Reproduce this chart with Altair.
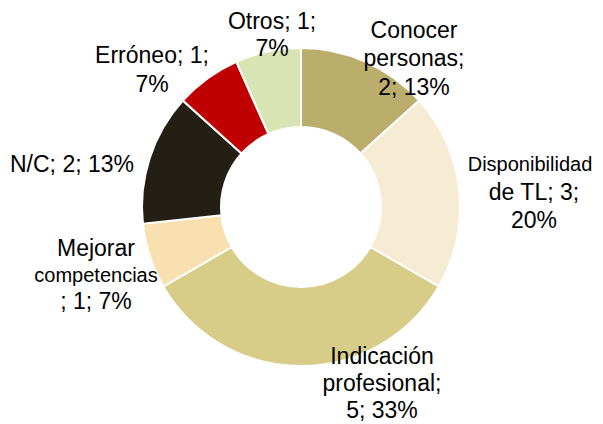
import altair as alt
import pandas as pd

categories = ["Conocer personas", "Disponibilidad de TL", "Indicación profesional",
              "Mejorar competencias", "N/C", "Erróneo", "Otros"]
counts = [2, 3, 5, 1, 2, 1, 1]
percents = ["13%", "20%", "33%", "7%", "13%", "7%", "7%"]
colors = ["#BBAD6C", "#F6EBD3", "#D7CD88", "#F9E0B0", "#231F14", "#C00000", "#D8E4B4"]

df = pd.DataFrame({"cat": categories, "n": counts, "order": list(range(len(categories)))})

base = alt.Chart(df)
arcs = base.mark_arc(radius=159, innerRadius=80, stroke="white", strokeWidth=2).encode(
    theta=alt.Theta("n:Q", stack=True),
    order=alt.Order("order:Q"),
    color=alt.Color("cat:N", scale=alt.Scale(domain=categories, range=colors), legend=None),
    x=alt.value(293), y=alt.value(199),
)

# label lines: (text, page x, page y, size)
FONT = "Liberation Sans"
BIG, SMALL = 23, 20
label_lines = [
    ("Otros; 1;", 272, 22, BIG), (percents[6], 272, 49, BIG),
    ("Conocer", 414, 31, BIG), ("personas;", 414, 59, BIG), (f"{counts[0]}; {percents[0]}", 414, 88, BIG),
    ("Disponibilidad", 530, 165, SMALL), (f"de TL; {counts[1]};", 534, 193, BIG), (percents[1], 534, 221, BIG),
    ("Indicación", 382, 357, BIG), ("profesional;", 382, 384, BIG), (f"{counts[2]}; {percents[2]}", 382, 411, BIG),
    ("Mejorar", 96, 249, BIG), ("competencias", 96, 276, SMALL), (f"; {counts[3]}; {percents[3]}", 96, 302, BIG),
    (f"N/C; {counts[4]}; {percents[4]}", 72, 165, BIG),
    (f"Erróneo; {counts[5]};", 152, 56, BIG), (percents[5], 152, 85, BIG),
]

layers = [arcs]
for t, x, y, s in label_lines:
    layers.append(
        alt.Chart(pd.DataFrame({"t": [t]})).mark_text(
            font=FONT, fontSize=s, color="#000000", align="center", baseline="middle"
        ).encode(text="t:N", x=alt.value(x - 8), y=alt.value(y - 8))
    )

chart = alt.layer(*layers).properties(
    width=587, height=416, padding=0, autosize=alt.AutoSizeParams(type="none")
).configure_view(stroke=None)

chart.save("out.html", embed_options={"renderer": "svg", "actions": False})
